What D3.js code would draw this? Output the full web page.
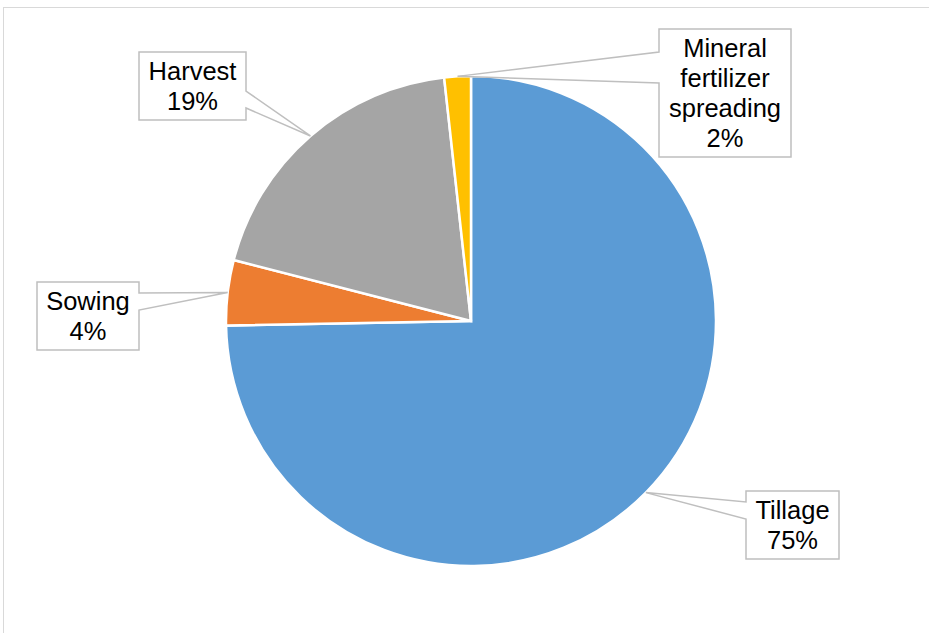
<!DOCTYPE html>
<html>
<head>
<meta charset="utf-8">
<script src="https://cdn.jsdelivr.net/npm/d3@7"></script>
<style>
  body { margin: 0; background: #fff; }
  svg { display: block; }
</style>
</head>
<body>
<script>
// data
var categories = ["Tillage", "Sowing", "Harvest", "Mineral fertilizer spreading"];
var values = [74.7, 4.3, 19.25, 1.75];
var colors = ["#5B9BD5", "#ED7D31", "#A5A5A5", "#FFC000"];

// label callouts: box, text lines, side of the pointer and its base on that side
var labelBoxes = [
    {x: 746, y: 491, w: 93, h: 68, lines: ["Tillage"], side: "left", b0: 11, b1: 28},
    {x: 37, y: 282, w: 102, h: 68, lines: ["Sowing"], side: "right", b0: 11, b1: 28},
    {x: 139, y: 52, w: 107, h: 68, lines: ["Harvest"], side: "right", b0: 39, b1: 56},
    {x: 659, y: 29, w: 132, h: 128, lines: ["Mineral", "fertilizer", "spreading"], side: "left", b0: 23, b1: 54}
];

var width = 929;
var height = 633;
var cx = 471, cy = 321, radius = 245;

var svg = d3.select("body")
    .append("svg")
    .attr("width", width)
    .attr("height", height);

// chart area border
svg.append("rect")
    .attr("x", 3.5)
    .attr("y", 7.5)
    .attr("width", 940)
    .attr("height", 640)
    .attr("fill", "none")
    .attr("stroke", "#d9d9d9");

var data = categories.map((c, i) => ({name: c, value: values[i], color: colors[i]}));

var pie = d3.pie()
    .sort(null)
    .value(d => d.value);

var arcs = pie(data);

var arc = d3.arc()
    .innerRadius(0)
    .outerRadius(radius);

var edge = d3.arc()
    .innerRadius(radius)
    .outerRadius(radius);

var g = svg.append("g")
    .attr("transform", `translate(${cx}, ${cy})`);

g.selectAll("path.slice")
    .data(arcs)
    .enter()
    .append("path")
    .attr("class", "slice")
    .attr("d", arc)
    .attr("fill", d => d.data.color)
    .attr("stroke", "#fff")
    .attr("stroke-width", 2.5)
    .attr("stroke-linejoin", "miter");

// callouts
arcs.forEach((a, i) => {
    var b = labelBoxes[i];
    var tip = edge.centroid(a);
    var tx = tip[0] + cx, ty = tip[1] + cy;
    var x0 = b.x, y0 = b.y, x1 = b.x + b.w, y1 = b.y + b.h;
    var p;
    if (b.side == "left") {
        p = `M${x0},${y0} H${x1} V${y1} H${x0} V${y0 + b.b1} L${tx},${ty} L${x0},${y0 + b.b0} Z`;
    } else {
        p = `M${x0},${y0} H${x1} V${y0 + b.b0} L${tx},${ty} L${x1},${y0 + b.b1} V${y1} H${x0} Z`;
    }
    svg.append("path")
        .attr("d", p)
        .attr("fill", "#fff")
        .attr("stroke", "#bfbfbf")
        .attr("stroke-width", 1.5)
        .attr("stroke-linejoin", "miter");

    var lines = b.lines.concat([Math.round(a.data.value) + "%"]);
    var lh = 30;
    var startY = b.y + b.h / 2 - (lines.length - 1) * lh / 2;
    var t = svg.append("text")
        .attr("text-anchor", "middle")
        .attr("font-family", "Liberation Sans, Arial, sans-serif")
        .attr("font-size", 25.5)
        .attr("fill", "#000");
    lines.forEach((l, j) => {
        t.append("tspan")
            .attr("x", b.x + b.w / 2)
            .attr("y", startY + j * lh)
            .attr("dy", "0.35em")
            .text(l);
    });
});
</script>
</body>
</html>
